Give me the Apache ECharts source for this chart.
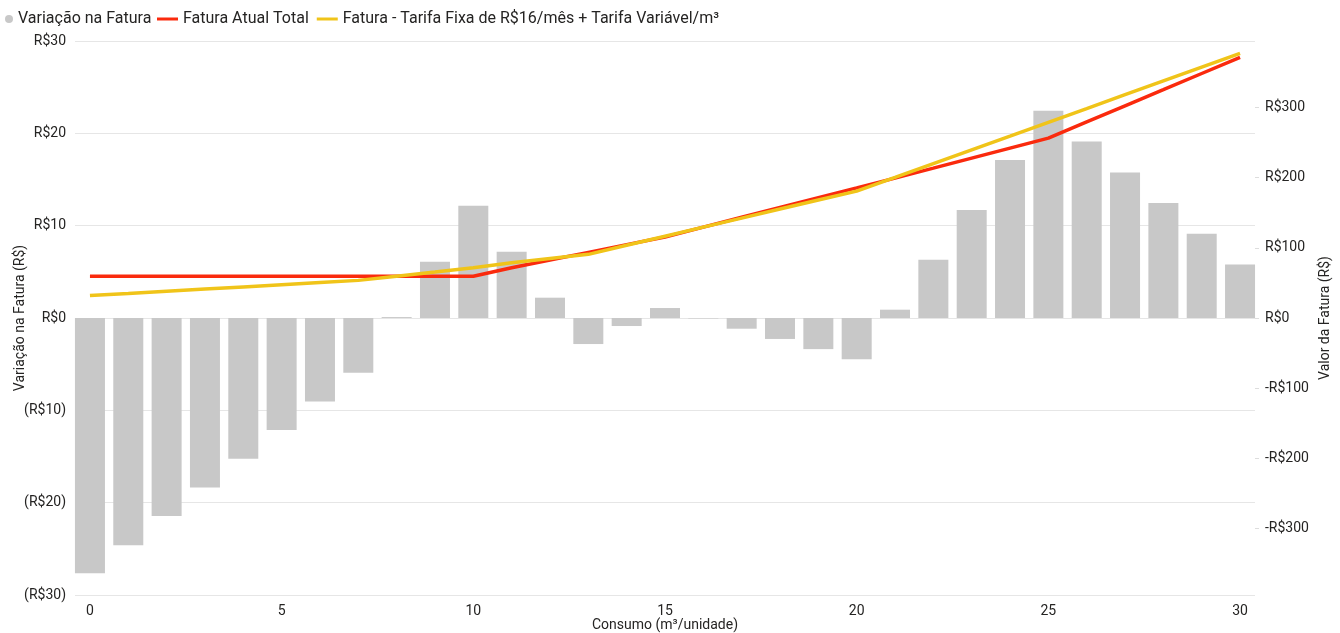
<!DOCTYPE html>
<html>
<head>
<meta charset="utf-8">
<title>Variação na Fatura</title>
<script src="https://cdn.jsdelivr.net/npm/echarts@6/dist/echarts.min.js"></script>
<style>
  html, body { margin: 0; padding: 0; background: #ffffff; }
  #chart { width: 1340px; height: 633px; }
</style>
</head>
<body>
<div id="chart"></div>
<script>
// Consumo (m³/unidade), 0 a 30
const consumo = [0,1,2,3,4,5,6,7,8,9,10,11,12,13,14,15,16,17,18,19,20,21,22,23,24,25,26,27,28,29,30];

// Diferença entre a nova fatura e a fatura atual (R$)
const variacao = [-27.65,-24.6,-21.45,-18.35,-15.24,-12.13,-9.03,-5.92,0.1,6.1,12.16,7.18,2.2,-2.82,-0.87,1.08,-0.05,-1.16,-2.27,-3.37,-4.48,0.9,6.3,11.7,17.1,22.45,19.12,15.77,12.45,9.12,5.8];

// Fatura atual total (R$)
const faturaAtual = [59.5,59.5,59.5,59.5,59.5,59.5,59.5,59.5,59.5,59.5,59.5,71.5,82.5,93.5,104.5,115.4,129.5,143.5,157.5,171.5,185.3,199.3,213.5,227.8,242,256.3,279.3,302.3,325.2,348.3,371.2];

// Fatura com tarifa fixa de R$16/mês + tarifa variável por m³ (R$)
const faturaNova = [31.9,34.9,38.1,41.2,44.3,47.4,50.5,53.6,59.6,65.6,71.7,78.7,84.7,90.7,103.6,116.5,129.4,142.3,155.2,168.1,180.8,200.2,219.8,239.5,259.1,278.8,298.4,318.1,337.7,357.4,377];

// Marcas dos eixos
const ticksConsumo = [0,5,10,15,20,25,30];
const ticksValor = [-300,-200,-100,0,100,200,300];

const nomes = {
  variacao: 'Variação na Fatura',
  atual: 'Fatura Atual Total',
  nova: 'Fatura - Tarifa Fixa de R$16/mês + Tarifa Variável/m³'
};

const FONT = 'Roboto, "Noto Sans", sans-serif';
const TXT = '#252423';

const pares = (xs, ys) => xs.map((x, i) => [x, ys[i]]);

const fmtEsq = v => v < 0 ? '(R$' + Math.abs(v) + ')' : 'R$' + v;
const fmtDir = v => v < 0 ? '-R$' + Math.abs(v) : 'R$' + v;

const chart = echarts.init(document.getElementById('chart'), null, { renderer: 'canvas' });

chart.setOption({
  backgroundColor: '#ffffff',
  animation: false,
  textStyle: { fontFamily: FONT },
  legend: [
    {
      left: 0, top: 6,
      data: [{ name: nomes.variacao, icon: 'circle' }],
      itemWidth: 8, itemHeight: 8, itemGap: 8,
      textStyle: { fontSize: 16, color: TXT, fontFamily: FONT }
    },
    {
      left: 152, top: 6,
      data: [{ name: nomes.atual, icon: 'rect' }, { name: nomes.nova, icon: 'rect' }],
      itemWidth: 21, itemHeight: 3, itemGap: 8,
      textStyle: { fontSize: 16, color: TXT, fontFamily: FONT }
    }
  ],
  grid: { left: 75, right: 85, top: 41, bottom: 38, containLabel: false, outerBoundsMode: 'none' },
  xAxis: {
    type: 'value',
    min: -0.39,
    max: 30.39,
    name: 'Consumo (m³/unidade)',
    nameLocation: 'middle',
    nameMoveOverlap: false,
    nameGap: 23,
    nameTextStyle: { fontSize: 14, color: TXT, fontFamily: FONT },
    axisLine: { show: false },
    axisTick: { show: false },
    splitLine: { show: false },
    axisLabel: {
      customValues: ticksConsumo,
      fontSize: 14, color: TXT, margin: 9, fontFamily: FONT
    }
  },
  yAxis: [
    {
      type: 'value',
      position: 'left',
      min: -30, max: 30, interval: 10,
      name: 'Variação na Fatura (R$)',
      nameLocation: 'middle',
      nameMoveOverlap: false,
      nameRotate: 90,
      nameGap: 48,
      nameTextStyle: { fontSize: 14, color: TXT, fontFamily: FONT },
      axisLine: { show: false },
      axisTick: { show: false },
      splitLine: { show: true, lineStyle: { color: '#E6E6E6', width: 1 } },
      axisLabel: { formatter: fmtEsq, fontSize: 14, color: TXT, margin: 9, fontFamily: FONT }
    },
    {
      type: 'value',
      position: 'right',
      min: -394.6, max: 394.6,
      name: 'Valor da Fatura (R$)',
      nameLocation: 'middle',
      nameMoveOverlap: false,
      nameRotate: 90,
      nameGap: 63,
      nameTextStyle: { fontSize: 14, color: TXT, fontFamily: FONT },
      axisLine: { show: false },
      axisTick: { show: true, customValues: ticksValor, length: 4, lineStyle: { color: '#DDDDDD' } },
      splitLine: { show: false },
      axisLabel: { customValues: ticksValor, formatter: fmtDir, fontSize: 14, color: TXT, margin: 10, fontFamily: FONT }
    }
  ],
  series: [
    {
      name: nomes.variacao,
      type: 'bar',
      yAxisIndex: 0,
      barWidth: 30,
      itemStyle: { color: '#C8C8C8' },
      data: pares(consumo, variacao)
    },
    {
      name: nomes.atual,
      type: 'line',
      yAxisIndex: 1,
      showSymbol: false,
      symbol: 'none',
      lineStyle: { color: '#FA2A0D', width: 3.5 },
      itemStyle: { color: '#FA2A0D' },
      data: pares(consumo, faturaAtual)
    },
    {
      name: nomes.nova,
      type: 'line',
      yAxisIndex: 1,
      showSymbol: false,
      symbol: 'none',
      lineStyle: { color: '#F0C419', width: 3.5 },
      itemStyle: { color: '#F0C419' },
      data: pares(consumo, faturaNova)
    }
  ]
});
</script>
</body>
</html>
